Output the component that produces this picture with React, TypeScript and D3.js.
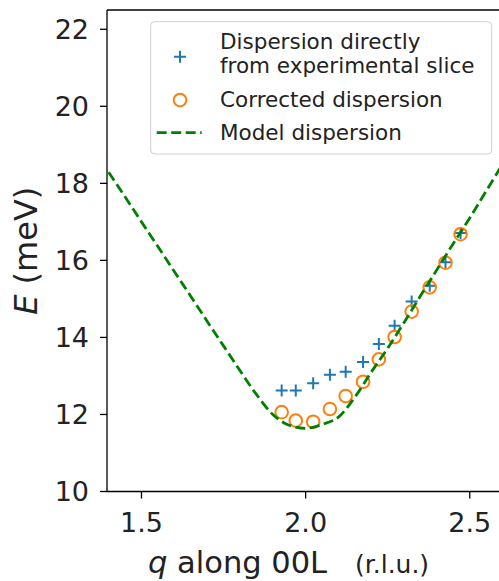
import React from "react";
import * as d3 from "d3";

const qPoints = [1.927, 1.97, 2.023, 2.074, 2.122, 2.175, 2.223, 2.271, 2.323, 2.378, 2.426, 2.472];
const eDirect = [12.62, 12.62, 12.81, 13.03, 13.11, 13.36, 13.83, 14.3, 14.93, 15.34, 15.95, 16.71];
const eCorrected = [12.06, 11.84, 11.81, 12.14, 12.48, 12.85, 13.43, 14.01, 14.67, 15.3, 15.94, 16.68];

const modelQ = [1.4, 1.45, 1.5, 1.55, 1.6, 1.65, 1.7, 1.75, 1.8, 1.85, 1.9, 1.95, 2.0, 2.05, 2.1, 2.15, 2.2, 2.25, 2.3, 2.35, 2.4, 2.45, 2.5, 2.55, 2.6];
const modelE = [18.29, 17.65, 17.0, 16.36, 15.71, 15.07, 14.42, 13.78, 13.14, 12.52, 12.0, 11.72, 11.64, 11.74, 11.93, 12.45, 13.1, 13.72, 14.39, 15.08, 15.76, 16.44, 17.1, 17.8, 18.5];

const xTicks = [1.5, 2.0, 2.5];
const yTicks = [10, 12, 14, 16, 18, 20, 22];

const legendLabels = [["Dispersion directly", "from experimental slice"], ["Corrected dispersion"], ["Model dispersion"]];

const BLUE = "#1f77b4";
const ORANGE = "#ff7f0e";
const GREEN = "#008000";
const FONT = "DejaVu Sans, sans-serif";

export default function App() {
  const W = 499, H = 581;
  const left = 107, right = 502.6, top = 10, bottom = 491.5;
  const x = d3.scaleLinear().domain([1.395, 2.6]).range([left, right]);
  const y = d3.scaleLinear().domain([10, 22.5]).range([bottom, top]);

  const line = d3
    .line<number>()
    .x((_, i) => x(modelQ[i]))
    .y((d) => y(d))
    .curve(d3.curveMonotoneX);

  const cross = (cx: number, cy: number, s = 6) => `M${cx - s},${cy}H${cx + s}M${cx},${cy - s}V${cy + s}`;

  return (
    <svg width={W} height={H} style={{ position: "absolute", left: 0, top: 0 }} fontFamily={FONT}>
      <defs>
        <clipPath id="plot">
          <rect x={left} y={top} width={right - left} height={bottom - top} />
        </clipPath>
      </defs>
      <rect x={0} y={0} width={W} height={H} fill="white" />
      <g clipPath="url(#plot)">
        {qPoints.map((q, i) => (
          <path key={"c" + i} d={cross(x(q), y(eDirect[i]))} stroke={BLUE} strokeWidth={2} fill="none" />
        ))}
        {qPoints.map((q, i) => (
          <circle key={"o" + i} cx={x(q)} cy={y(eCorrected[i])} r={6.3} stroke={ORANGE} strokeWidth={2} fill="none" />
        ))}
        <path d={line(modelE) || ""} stroke={GREEN} strokeWidth={2.8} strokeDasharray="10,4.5" fill="none" />
      </g>
      {/* spines */}
      <line x1={left} x2={left} y1={top} y2={bottom} stroke="#000" strokeWidth={1.3} />
      <line x1={left} x2={right} y1={bottom} y2={bottom} stroke="#000" strokeWidth={1.3} />
      <line x1={left} x2={right} y1={top} y2={top} stroke="#000" strokeWidth={1.3} />
      <line x1={right} x2={right} y1={top} y2={bottom} stroke="#000" strokeWidth={1.3} />
      {/* y ticks */}
      {yTicks.map((t) => (
        <g key={"y" + t}>
          <line x1={left - 7} x2={left} y1={y(t)} y2={y(t)} stroke="#000" strokeWidth={1.3} />
          <text x={left - 18} y={y(t)} dy="0.36em" textAnchor="end" fontSize={27} fill="#222">
            {t}
          </text>
        </g>
      ))}
      {/* x ticks */}
      {xTicks.map((t) => (
        <g key={"x" + t}>
          <line x1={x(t)} x2={x(t)} y1={bottom} y2={bottom + 7} stroke="#000" strokeWidth={1.3} />
          <text x={x(t)} y={531.5} textAnchor="middle" fontSize={27} fill="#222">
            {d3.format(".1f")(t)}
          </text>
        </g>
      ))}
      {/* axis labels */}
      <text x={148} y={572.5} fontSize={30.5} fill="#222">
        <tspan fontStyle="italic">q</tspan>
        <tspan> along 00L</tspan>
      </text>
      <text x={355} y={572.5} fontSize={25} fill="#222">(r.l.u.)</text>
      <text transform={`translate(37,${(top + bottom) / 2}) rotate(-90)`} textAnchor="middle" fontSize={32} fill="#222">
        <tspan fontStyle="italic">E</tspan>
        <tspan> (meV)</tspan>
      </text>
      {/* legend */}
      <rect x={150.7} y={21.7} width={341} height={132.3} rx={4} fill="white" fillOpacity={0.8} stroke="#d0d0d0" strokeWidth={1} />
      <path d={cross(180, 56.7, 6)} stroke={BLUE} strokeWidth={2} />
      <circle cx={180} cy={100} r={6.3} stroke={ORANGE} strokeWidth={2} fill="none" />
      <line x1={156.7} x2={201.7} y1={132.7} y2={132.7} stroke={GREEN} strokeWidth={2.8} strokeDasharray="10,4.5" />
      <text x={220} y={49.3} fontSize={21.5} fill="#222">{legendLabels[0][0]}</text>
      <text x={220} y={72.7} fontSize={21.5} fill="#222">{legendLabels[0][1]}</text>
      <text x={220} y={106.7} fontSize={21.5} fill="#222">{legendLabels[1][0]}</text>
      <text x={220} y={140} fontSize={21.5} fill="#222">{legendLabels[2][0]}</text>
    </svg>
  );
}
